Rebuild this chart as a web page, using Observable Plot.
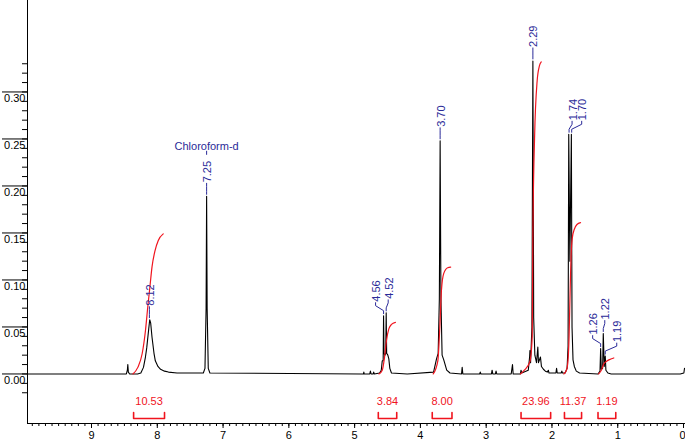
<!DOCTYPE html>
<html><head><meta charset="utf-8">
<script src="https://cdn.jsdelivr.net/npm/d3@7"></script>
<script src="https://cdn.jsdelivr.net/npm/@observablehq/plot@0.6"></script>
<style>html,body{margin:0;padding:0;background:#fff;} #chart{width:685px;height:443px;overflow:hidden}</style>
</head><body><div id="chart"></div>
<script>
// ---------- data ----------
const xMajorTicks = [0, 1, 2, 3, 4, 5, 6, 7, 8, 9];
const yMajorTicks = [0.00, 0.05, 0.10, 0.15, 0.20, 0.25, 0.30];

// 1H NMR trace: [ppm, intensity]
const spectrum = [
  [9.97, 0.000], [8.47, 0.000], [8.455, 0.004], [8.448, 0.010], [8.44, 0.002], [8.42, 0.000],
  [8.30, 0.000], [8.25, 0.001], [8.21, 0.007], [8.18, 0.018], [8.16, 0.028], [8.13, 0.048],
  [8.115, 0.0577], [8.10, 0.054], [8.08, 0.039], [8.05, 0.022], [8.03, 0.014], [7.99, 0.008],
  [7.95, 0.005], [7.89, 0.003], [7.83, 0.002], [7.70, 0.001], [7.40, 0.001],
  [7.30, 0.001], [7.275, 0.006], [7.258, 0.07], [7.25, 0.189], [7.242, 0.07], [7.225, 0.006], [7.20, 0.001],
  [4.90, 0.000], [4.865, 0.000], [4.86, 0.002], [4.855, 0.000], [4.77, 0.000], [4.76, 0.003], [4.75, 0.000],
  [4.72, 0.000], [4.71, 0.002], [4.70, 0.000],
  [4.62, 0.001], [4.595, 0.004], [4.58, 0.014], [4.566, 0.014], [4.56, 0.062], [4.553, 0.022],
  [4.54, 0.020], [4.527, 0.022], [4.52, 0.065], [4.513, 0.022], [4.495, 0.020], [4.48, 0.016],
  [4.465, 0.006], [4.44, 0.001], [4.20, 0.000],
  [3.80, 0.002], [3.755, 0.016], [3.73, 0.022], [3.712, 0.08], [3.70, 0.248], [3.688, 0.08],
  [3.67, 0.020], [3.645, 0.015], [3.60, 0.004], [3.55, 0.001],
  [3.375, 0.000], [3.365, 0.007], [3.355, 0.000],
  [3.10, 0.000], [3.09, 0.002], [3.08, 0.000],
  [2.92, 0.000], [2.91, 0.004], [2.90, 0.000], [2.86, 0.000], [2.85, 0.003], [2.84, 0.000],
  [2.62, 0.000], [2.60, 0.010], [2.59, 0.000],
  [2.48, 0.000], [2.47, 0.004], [2.46, 0.001],
  [2.36, 0.004], [2.34, 0.018], [2.335, 0.025], [2.325, 0.012], [2.305, 0.05], [2.29, 0.333],
  [2.278, 0.06], [2.26, 0.020], [2.235, 0.012], [2.215, 0.0285], [2.205, 0.012], [2.175, 0.018],
  [2.16, 0.008], [2.13, 0.005], [2.10, 0.003], [2.07, 0.002], [2.055, 0.004], [2.045, 0.001],
  [1.94, 0.001], [1.93, 0.006], [1.92, 0.001], [1.86, 0.001], [1.85, 0.003], [1.84, 0.001],
  [1.80, 0.001], [1.77, 0.006], [1.755, 0.03], [1.745, 0.255], [1.728, 0.12], [1.705, 0.255],
  [1.695, 0.05], [1.68, 0.015], [1.66, 0.008], [1.63, 0.003], [1.58, 0.001],
  [1.30, 0.000], [1.27, 0.003], [1.26, 0.027], [1.25, 0.005], [1.23, 0.006], [1.22, 0.043],
  [1.205, 0.008], [1.19, 0.019], [1.18, 0.004], [1.15, 0.001], [1.10, 0.000],
  [0.05, 0.000], [-0.005, 0.001], [-0.015, 0.006]
];

// picked peaks
const peakLabels = ["8.12", "7.25", "4.56", "4.52", "3.70", "2.29", "1.74", "1.70", "1.26", "1.22", "1.19"];
const peakShift  = [8.12, 7.25, 4.56, 4.52, 3.70, 2.29, 1.74, 1.70, 1.26, 1.22, 1.19];
const peakTop    = [0.0577, 0.189, 0.062, 0.065, 0.248, 0.333, 0.255, 0.255, 0.027, 0.043, 0.019];
const solventLabel = "Chloroform-d";
const solventShift = 7.25;

// integrals
const integralValues = ["10.53", "3.84", "8.00", "23.96", "11.37", "1.19"];
const integralFrom   = [8.36, 4.64, 3.82, 2.47, 1.81, 1.30];
const integralTo     = [7.89, 4.36, 3.52, 2.02, 1.55, 1.03];
const integralCurves = [
  [[8.37, 0], [8.296, 0.007], [8.23, 0.0215], [8.18, 0.046], [8.145, 0.071], [8.113, 0.092], [8.08, 0.114], [8.035, 0.131], [7.985, 0.142], [7.91, 0.149]],
  [[4.63, 0], [4.58, 0.004], [4.545, 0.018], [4.515, 0.036], [4.48, 0.048], [4.44, 0.0527], [4.38, 0.0548]],
  [[3.805, 0], [3.735, 0.014], [3.705, 0.05], [3.68, 0.089], [3.645, 0.107], [3.585, 0.113], [3.54, 0.1136]],
  [[2.48, 0], [2.42, 0.004], [2.336, 0.013], [2.30, 0.04], [2.29, 0.15], [2.265, 0.25], [2.225, 0.312], [2.19, 0.328], [2.163, 0.332]],
  [[1.82, 0], [1.78, 0.004], [1.755, 0.015], [1.74, 0.04], [1.725, 0.085], [1.71, 0.125], [1.69, 0.145], [1.66, 0.154], [1.62, 0.159], [1.566, 0.161]],
  [[1.29, 0], [1.25, 0.004], [1.21, 0.011], [1.17, 0.0135], [1.135, 0.015], [1.06, 0.017]]
];

// ---------- layout ----------
const W = 685, H = 443, mL = 27, mR = 0, mT = 0, mB = 20;
const X_DOMAIN = [9.973, -0.03];
const Y_DOMAIN = [-0.0527, 0.3973];
const pxX = (W - mL - mR) / (X_DOMAIN[0] - X_DOMAIN[1]);
const pxY = (H - mT - mB) / (Y_DOMAIN[1] - Y_DOMAIN[0]);
const shiftX = (ppm, dpx) => ppm - dpx / pxX;      // move right by dpx pixels
const shiftY = (v, dpx) => v + dpx / pxY;          // move up by dpx pixels
const BLUE = "#2a2a98", RED = "#f0141e";
const FONT = "'Liberation Sans', Arial, Helvetica, sans-serif";

const xMinorTicks = d3.range(0, 100).map(i => i / 10);
const yMinorTicks = d3.range(-2, 34).map(i => i / 100);

// label offsets (pixels) for the peak-pick labels
const labelDx = [0, 0, -8, 2, 0, 0, 3, 10, -8, 1.5, 11.5];

const connectors = [];
const labelRows = [];
peakLabels.forEach((lab, i) => {
  const p = peakShift[i], t = peakTop[i], dx = labelDx[i];
  [[0, 2], [0, 5], [dx, 10], [dx, 13]].forEach(([a, b]) =>
    connectors.push({id: i, x: shiftX(p, a), y: shiftY(t, b)}));
  labelRows.push({x: shiftX(p, dx + 1), y: shiftY(t, 14), text: lab});
});
const solventIdx = peakShift.indexOf(solventShift);
const solventTop = peakTop[solventIdx];

const brackets = [];
integralValues.forEach((v, i) => {
  const y0 = Y_DOMAIN[0];
  const top = shiftY(y0, 11), bot = shiftY(y0, 5);
  [[integralFrom[i], top], [integralFrom[i], bot], [integralTo[i], bot], [integralTo[i], top]]
    .forEach(([x, y]) => brackets.push({id: i, x, y}));
});
const bracketLabels = integralValues.map((v, i) => ({
  x: (integralFrom[i] + integralTo[i]) / 2, text: v
}));
const curveRows = integralCurves.flatMap((c, i) => c.map(([x, y]) => ({id: i, x, y})));

const chart = Plot.plot({
  width: W, height: H,
  marginLeft: mL, marginRight: mR, marginTop: mT, marginBottom: mB,
  x: {domain: X_DOMAIN},
  y: {domain: Y_DOMAIN},
  style: {fontFamily: FONT, fontSize: "11px", background: "#fff", color: "#000", overflow: "visible"},
  marks: [
    // axes
    Plot.ruleY([Y_DOMAIN[0]], {stroke: "#000", strokeWidth: 1}),
    Plot.ruleX([X_DOMAIN[0]], {stroke: "#000", strokeWidth: 1}),
    Plot.axisX(xMinorTicks, {anchor: "bottom", tickSize: 3, tickFormat: () => "", label: null, stroke: "#000"}),
    Plot.axisX(xMajorTicks, {anchor: "bottom", tickSize: 5, tickFormat: () => "", label: null, stroke: "#000"}),
    Plot.text(xMajorTicks, {x: d => d, text: d => String(d), frameAnchor: "bottom", lineAnchor: "top",
      dy: 8, fontSize: 11, fill: "#000"}),
    Plot.axisY(yMinorTicks, {anchor: "left", tickSize: 5, tickFormat: () => "", label: null, stroke: "#000"}),
    Plot.axisY(yMajorTicks, {anchor: "left", tickSize: 25, tickFormat: () => "", label: null, stroke: "#000"}),
    Plot.text(yMajorTicks, {y: d => d, text: d => d.toFixed(2), frameAnchor: "left", dx: -2, dy: 7,
      textAnchor: "end", fontSize: 11, fill: "#000"}),
    // spectrum
    Plot.line(spectrum, {x: d => d[0], y: d => d[1], stroke: "#000", strokeWidth: 1.1}),
    // integral curves
    Plot.line(curveRows, {x: "x", y: "y", z: "id", stroke: RED, strokeWidth: 1.2, curve: "monotone-x"}),
    // integral brackets
    Plot.line(brackets, {x: "x", y: "y", z: "id", stroke: RED, strokeWidth: 1.6}),
    Plot.text(bracketLabels, {x: "x", text: "text", frameAnchor: "bottom", dy: -19, fill: RED, fontSize: 11}),
    // peak labels
    Plot.line(connectors, {x: "x", y: "y", z: "id", stroke: BLUE, strokeWidth: 1}),
    Plot.text(labelRows, {x: "x", y: "y", text: "text", rotate: -90, textAnchor: "start",
      lineAnchor: "middle", fill: BLUE, fontSize: 11}),
    Plot.ruleX([solventShift], {y1: shiftY(solventTop, 41), y2: shiftY(solventTop, 45), stroke: BLUE, strokeWidth: 1}),
    Plot.text([solventLabel], {x: solventShift, y: shiftY(solventTop, 50), text: d => d,
      fill: BLUE, fontSize: 11, lineAnchor: "middle"})
  ]
});
// keep the "0" tick label fully inside the page edge, as in the reference
const zeroLabel = Array.from(chart.querySelectorAll("text")).find(t => t.textContent === "0");
if (zeroLabel) { zeroLabel.setAttribute("text-anchor", "end"); zeroLabel.setAttribute("dx", "2"); }
document.getElementById("chart").appendChild(chart);
</script>
</body></html>
